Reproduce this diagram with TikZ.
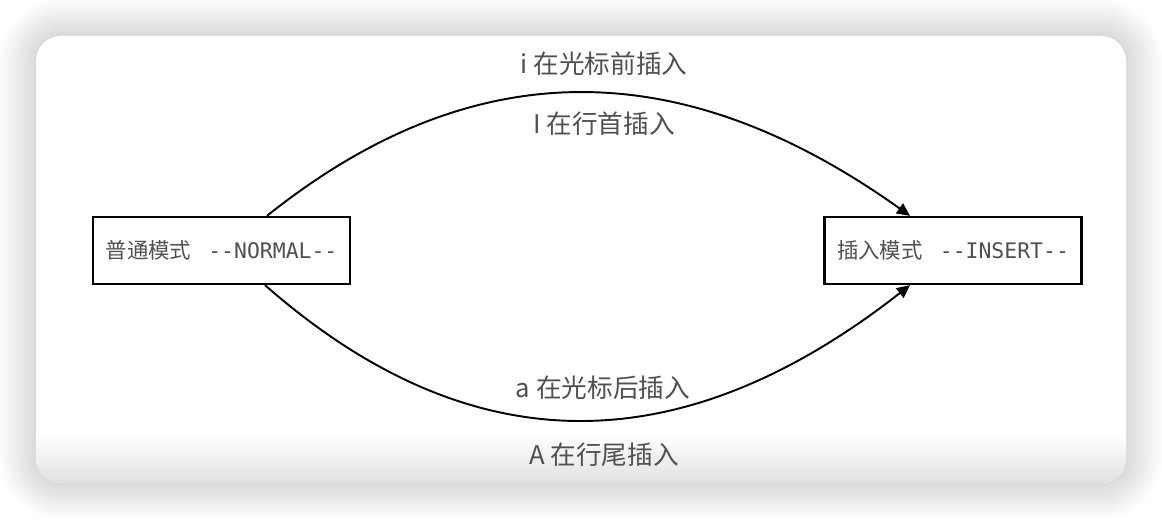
\documentclass[tikz,border=0pt]{standalone}
\usepackage{fontspec}
\newfontfamily\cjk{Noto Sans CJK SC}
\newfontfamily\mono{DejaVu Sans Mono}[Ligatures=TeXOff]
\usepackage{tikz}
\usetikzlibrary{arrows.meta,positioning,calc}
\definecolor{textgray}{HTML}{505050}

\begin{document}
\begin{tikzpicture}[
    mode/.style={draw=black, line width=1.3pt, fill=white, minimum width=5.14cm, minimum height=1.34cm, inner sep=0pt, text=textgray, font=\fontsize{12.2}{14}\selectfont},
    lab/.style={text=textgray, font=\cjk\fontsize{14.6}{16}\selectfont, inner sep=1pt},
    edge/.style={line width=1.1pt, -{Triangle[length=0.26cm,width=0.24cm]}}
  ]
      \useasboundingbox (0,0) rectangle (23.24,10.4);
      \fill[white] (0,0) rectangle (23.24,10.4);

      \foreach \i in {1,...,12}
        \fill[black, opacity=0.013, rounded corners=0.5cm+\i*0.06cm]
          (0.72-\i*0.06,0.74-\i*0.06) rectangle (22.52+\i*0.06,9.68+\i*0.06);

      \fill[white, rounded corners=0.5cm] (0.72,0.74) rectangle (22.52,9.68);
      \begin{scope}
        \clip[rounded corners=0.5cm] (0.72,0.74) rectangle (22.52,9.68);
        \shade[top color=white, bottom color=black!12] (0.72,0.74) rectangle (22.52,1.72);
      \end{scope}

      \node[mode] (normal) at (4.43,5.39) {{\cjk 普通模式}\hspace{0.34cm}{\mono --NORMAL--}};
      \node[mode] (insert) at (19.06,5.39) {{\cjk 插入模式}\hspace{0.34cm}{\mono --INSERT--}};

      \draw[edge] ([xshift=0.91cm]normal.north) .. controls (9.44,9.36) and (13.6,9.36) .. ([xshift=-0.86cm]insert.north);
      \draw[edge] ([xshift=0.87cm]normal.south) .. controls (9.4,1.1) and (13.6,1.1) .. ([xshift=-0.86cm]insert.south);

      \node[lab] (before) at (12.08,9.12) {i 在光标前插入};
      \node[lab] (head) at (12.08,7.92) {I 在行首插入};
      \node[lab] (after) at (12.06,2.64) {a 在光标后插入};
      \node[lab] (tail) at (12.08,1.30) {A 在行尾插入};
    \end{tikzpicture}
\end{document}
